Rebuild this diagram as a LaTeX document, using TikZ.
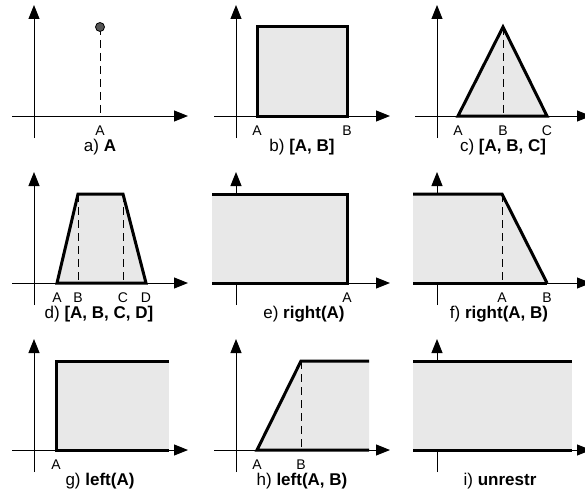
\documentclass[tikz,border=0pt]{standalone}
\usepackage{fontspec}
\setmainfont{Liberation Sans}
\usetikzlibrary{arrows.meta}
\definecolor{areafill}{RGB}{232,232,232}
\definecolor{dotgray}{RGB}{85,85,85}

\begin{document}
\begin{tikzpicture}[x=1pt,y=1pt,>={Triangle[length=14pt,width=11pt]},
    axis/.style={->,line width=1pt},
    region/.style={fill=areafill},
    bound/.style={line width=3pt},
    guide/.style={line width=1pt,dash pattern=on 8pt off 5pt},
    tick/.style={font=\fontsize{14}{16}\selectfont,anchor=base},
    caption/.style={font=\fontsize{17}{19}\selectfont,anchor=base}]
  \useasboundingbox (0,0) rectangle (585,499);
  % axes of the nine panels
  \foreach \cx/\cy in {34/383,236/383,437/383,34/216,236/216,437/216,34/49,236/49,437/49} {
    \draw[axis] (\cx-22,\cy)--(\cx+154,\cy);
    \draw[axis] (\cx,\cy-22)--(\cx,\cy+111);
  }
  % a) single value
  \begin{scope}[shift={(34,383)}]
    \draw[guide] (66,89)--(66,0);
    \fill[dotgray,draw=black,line width=0.8pt] (66,89) circle (4.5);
    \node[tick] (aA) at (66,-19) {A};
    \node[caption] (acap) at (66,-35) {a) \textbf{A}};
  \end{scope}
  % b) interval
  \begin{scope}[shift={(236,383)}]
    \draw[region,bound] (21,0) rectangle (111,89);
    \node[tick] (bA) at (21,-19) {A};
    \node[tick] (bB) at (111,-19) {B};
    \node[caption] (bcap) at (66,-35) {b) \textbf{[A, B]}};
  \end{scope}
  % c) triangle
  \begin{scope}[shift={(437,383)}]
    \draw[region,bound] (21,0)--(66,89)--(110,0)--cycle;
    \draw[guide] (66,89)--(66,0);
    \node[tick] (cA) at (21,-19) {A};
    \node[tick] (cB) at (66,-19) {B};
    \node[tick] (cC) at (110,-19) {C};
    \node[caption] (ccap) at (66,-35) {c) \textbf{[A, B, C]}};
  \end{scope}
  % d) trapezoid
  \begin{scope}[shift={(34,216)}]
    \draw[region,bound] (23,0)--(44,89)--(89,89)--(112,0)--cycle;
    \draw[guide] (44,89)--(44,0);
    \draw[guide] (89,89)--(89,0);
    \node[tick] (dA) at (23,-19) {A};
    \node[tick] (dB) at (44,-19) {B};
    \node[tick] (dC) at (89,-19) {C};
    \node[tick] (dD) at (112,-19) {D};
    \node[caption] (dcap) at (65,-35) {d) \textbf{[A, B, C, D]}};
  \end{scope}
  % e) right(A)
  \begin{scope}[shift={(236,216)}]
    \fill[region] (-24,0) rectangle (111,89);
    \draw[bound] (-24,89)--(111,89)--(111,0)--(-24,0);
    \node[tick] (eA) at (111,-19) {A};
    \node[caption] (ecap) at (68,-35) {e) \textbf{right(A)}};
  \end{scope}
  % f) right(A, B)
  \begin{scope}[shift={(437,216)}]
    \fill[region] (-24,0)--(-24,89)--(65,89)--(110,0)--cycle;
    \draw[bound] (-24,89)--(65,89)--(110,0);
    \draw[bound] (-24,0)--(110,0);
    \draw[guide] (65,89)--(65,0);
    \node[tick] (fA) at (65,-19) {A};
    \node[tick] (fB) at (110,-19) {B};
    \node[caption] (fcap) at (62,-35) {f) \textbf{right(A, B)}};
  \end{scope}
  % g) left(A)
  \begin{scope}[shift={(34,49)}]
    \fill[region] (22,0) rectangle (135,89);
    \draw[bound] (135,89)--(22,89)--(22,0)--(135,0);
    \node[tick] (gA) at (22,-19) {A};
    \node[caption] (gcap) at (66,-35) {g) \textbf{left(A)}};
  \end{scope}
  % h) left(A, B)
  \begin{scope}[shift={(236,49)}]
    \fill[region] (21,0)--(65,89)--(133,89)--(133,0)--cycle;
    \draw[bound] (133,89)--(65,89)--(21,0)--(133,0);
    \draw[guide] (65,89)--(65,0);
    \node[tick] (hA) at (21,-19) {A};
    \node[tick] (hB) at (65,-19) {B};
    \node[caption] (hcap) at (66,-35) {h) \textbf{left(A, B)}};
  \end{scope}
  % i) unrestricted
  \begin{scope}[shift={(437,49)}]
    \fill[region] (-24,0) rectangle (135,89);
    \draw[bound] (-24,89)--(135,89);
    \draw[bound] (-24,0)--(135,0);
    \node[caption] (icap) at (63,-35) {i) \textbf{unrestr}};
  \end{scope}
\end{tikzpicture}
\end{document}
